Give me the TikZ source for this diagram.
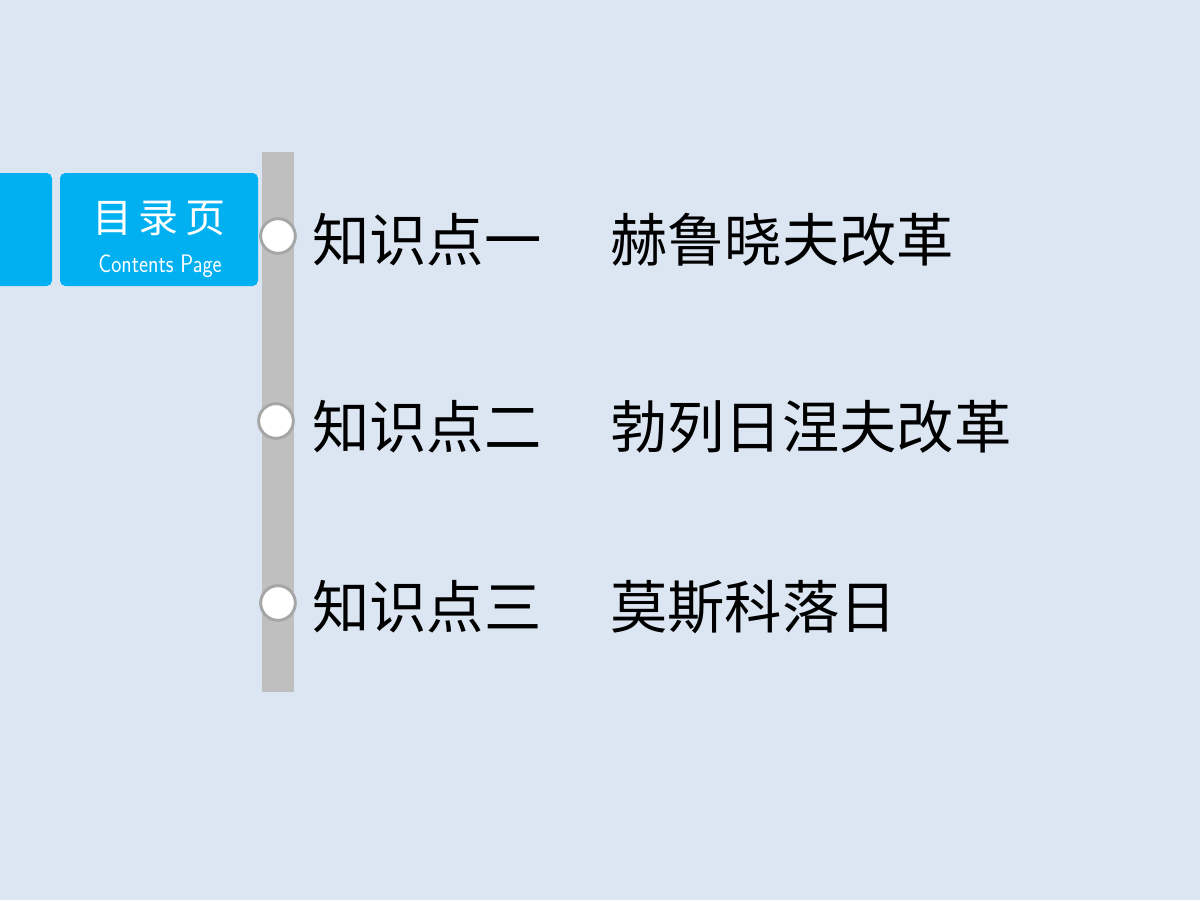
\documentclass[tikz,border=0pt]{standalone}
\usepackage{fontspec}
\newfontfamily\cjk{Noto Sans CJK SC}
\begin{document}
\begin{tikzpicture}[x=0.75pt,y=-0.75pt,
  item/.style={anchor=west,inner sep=0pt,font=\cjk\fontsize{43}{43}\selectfont},
  dot/.style={circle,fill=white,draw=gray!70,line width=2.2pt,minimum size=26pt,inner sep=0pt}]
\fill[fill={rgb,255:red,220;green,230;blue,242}] (0,0) rectangle (1200,900);
\useasboundingbox (0,0) rectangle (1200,900);
\fill[fill={rgb,255:red,0;green,176;blue,240},rounded corners=4pt] (-10,173) rectangle (52,286);
\fill[fill={rgb,255:red,0;green,176;blue,240},rounded corners=4pt] (60,173) rectangle (258,286);
\node[text=white,font=\cjk\fontsize{30}{30}\selectfont] (t1) at (159,218) {目\,录\,页};
\node[text=white,font=\sffamily\fontsize{19}{19}\selectfont,xscale=0.85] (t2) at (160,266) {Contents Page};
\fill[fill={rgb,255:red,191;green,191;blue,191}] (262,152) rectangle (294,692);
\node[dot] (c1) at (278,236) {};
\node[dot] (c2) at (276,421) {};
\node[dot] (c3) at (278,603) {};
\node[item] (a1) at (312,240) {知识点一};
\node[item] (b1) at (610,240) {赫鲁晓夫改革};
\node[item] (a2) at (312,427) {知识点二};
\node[item] (b2) at (610,427) {勃列日涅夫改革};
\node[item] (a3) at (312,607) {知识点三};
\node[item] (b3) at (610,607) {莫斯科落日};
\end{tikzpicture}
\end{document}
